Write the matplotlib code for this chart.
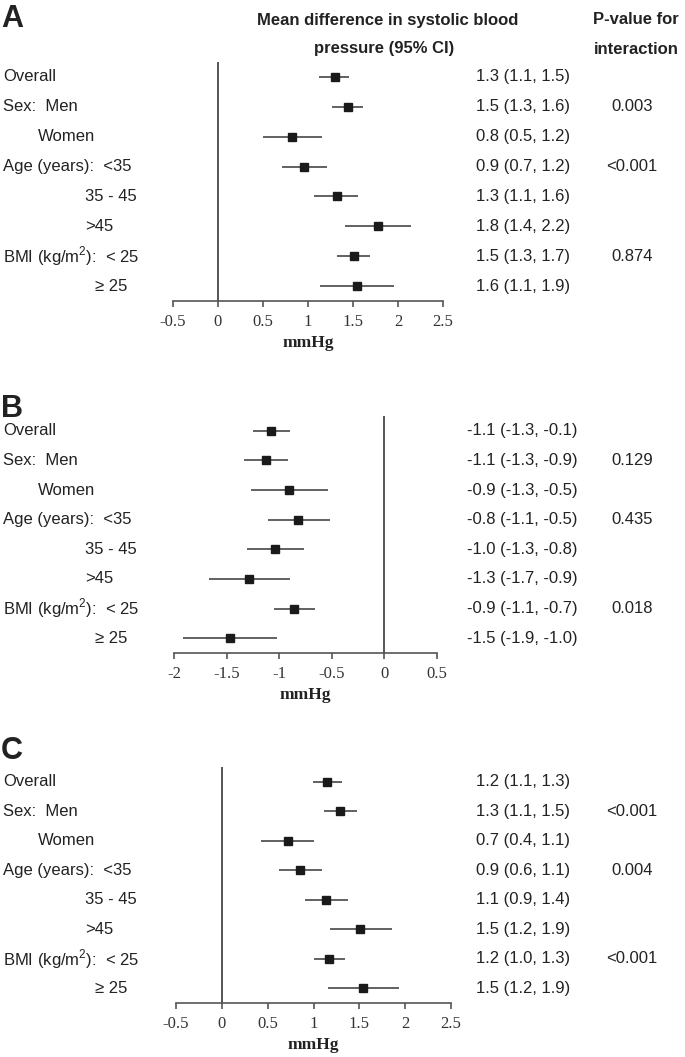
import matplotlib
matplotlib.use("Agg")
import matplotlib.pyplot as plt
from matplotlib.transforms import blended_transform_factory
from matplotlib.ticker import FixedLocator, FuncFormatter

plt.rcParams['font.family'] = ['Liberation Sans', 'DejaVu Sans']
plt.rcParams['mathtext.fontset'] = 'custom'
plt.rcParams['mathtext.rm'] = 'Liberation Sans'
plt.rcParams['axes.unicode_minus'] = False

W, H = 685, 1057

# ---- data ----
row_labels = ["Overall", "Sex:  Men", "Women", "Age (years):  <35", "35 - 45", ">45",
              "BMI (kg/m$^{2}$):  < 25", "\u2265 25"]

# panel A
est_a = [1.30, 1.44, 0.82, 0.95, 1.32, 1.78, 1.51, 1.54]
lo_a = [1.12, 1.27, 0.50, 0.71, 1.07, 1.41, 1.32, 1.13]
hi_a = [1.46, 1.61, 1.15, 1.21, 1.56, 2.14, 1.69, 1.95]
txt_a = ["1.3 (1.1, 1.5)", "1.5 (1.3, 1.6)", "0.8 (0.5, 1.2)", "0.9 (0.7, 1.2)",
         "1.3 (1.1, 1.6)", "1.8 (1.4, 2.2)", "1.5 (1.3, 1.7)", "1.6 (1.1, 1.9)"]
p_a = ["", "0.003", "", "<0.001", "", "", "0.874", ""]

# panel B
est_b = [-1.08, -1.13, -0.91, -0.82, -1.04, -1.29, -0.86, -1.47]
lo_b = [-1.25, -1.33, -1.27, -1.11, -1.31, -1.67, -1.05, -1.91]
hi_b = [-0.90, -0.92, -0.54, -0.52, -0.76, -0.90, -0.66, -1.02]
txt_b = ["-1.1 (-1.3, -0.1)", "-1.1 (-1.3, -0.9)", "-0.9 (-1.3, -0.5)", "-0.8 (-1.1, -0.5)",
         "-1.0 (-1.3, -0.8)", "-1.3 (-1.7, -0.9)", "-0.9 (-1.1, -0.7)", "-1.5 (-1.9, -1.0)"]
p_b = ["", "0.129", "", "0.435", "", "", "0.018", ""]

# panel C
est_c = [1.15, 1.29, 0.72, 0.85, 1.14, 1.51, 1.17, 1.54]
lo_c = [0.99, 1.11, 0.43, 0.62, 0.91, 1.18, 1.01, 1.16]
hi_c = [1.31, 1.47, 1.01, 1.09, 1.38, 1.86, 1.34, 1.93]
txt_c = ["1.2 (1.1, 1.3)", "1.3 (1.1, 1.5)", "0.7 (0.4, 1.1)", "0.9 (0.6, 1.1)",
         "1.1 (0.9, 1.4)", "1.5 (1.2, 1.9)", "1.2 (1.0, 1.3)", "1.5 (1.2, 1.9)"]
p_c = ["", "<0.001", "", "0.004", "", "", "<0.001", ""]

ticks_ac = [-0.5, 0, 0.5, 1, 1.5, 2, 2.5]
ticks_b = [-2, -1.5, -1, -0.5, 0, 0.5]

# layout (pixels)
label_x = [3, 3, 38, 3, 85, 85, 3, 95]

GRAY = "#555555"
TXT = "#222222"

fig = plt.figure(figsize=(W / 100, H / 100), dpi=100)


def fx(x):
    return x / W


def fy(y):
    return 1 - y / H


def panel(letter, left, right, top, bottom, xlim, ticks, est, lo, hi, txt, pv, txt_x, letter_y):
    ax = fig.add_axes([fx(left), fy(bottom), (right - left) / W, (bottom - top) / H])
    rows = list(range(len(est)))
    ax.hlines(rows, lo, hi, color=GRAY, lw=1.3)
    ax.plot(est, rows, 's', color='#1a1a1a', ms=5.5, mec='#1a1a1a')
    ax.axvline(0, color=GRAY, lw=1.4)
    ax.set_xlim(*xlim)
    ax.set_ylim(len(est) - 0.5, -0.5)
    for s in ['left', 'top', 'right']:
        ax.spines[s].set_visible(False)
    ax.spines['bottom'].set_color(GRAY)
    ax.spines['bottom'].set_linewidth(1.2)
    ax.set_yticks([])
    ax.xaxis.set_major_locator(FixedLocator(ticks))
    ax.xaxis.set_major_formatter(FuncFormatter(lambda v, p: ('%g' % v)))
    ax.tick_params(axis='x', direction='out', length=4, width=1.2, color=GRAY, pad=5,
                   labelsize=12, labelcolor='#333333')
    for lab in ax.get_xticklabels():
        lab.set_fontfamily('Liberation Serif')
    ax.set_xlabel("mmHg", fontfamily='Liberation Serif', fontweight='bold', fontsize=12.5,
                  labelpad=4, color=TXT)
    ax.patch.set_visible(False)

    tr = blended_transform_factory(fig.transFigure, ax.transData)
    for i in rows:
        fig.text(fx(label_x[i]), i, row_labels[i], transform=tr, va='center', ha='left',
                 fontsize=12, color=TXT)
        fig.text(fx(txt_x), i, txt[i], transform=tr, va='center', ha='left',
                 fontsize=12, color=TXT)
        if pv[i]:
            fig.text(fx(632), i, pv[i], transform=tr, va='center', ha='center',
                     fontsize=12, color=TXT)
    fig.text(fx(1), fy(letter_y), letter, fontsize=22, fontweight='bold', va='center',
             ha='left', color=TXT)
    return ax


panel("A", 173, 443, 62, 301, (-0.5, 2.5), ticks_ac, est_a, lo_a, hi_a, txt_a, p_a, 476, 19)
panel("B", 174, 437, 416, 653, (-2, 0.5), ticks_b, est_b, lo_b, hi_b, txt_b, p_b, 467, 409)
panel("C", 176, 451, 767, 1003, (-0.5, 2.5), ticks_ac, est_c, lo_c, hi_c, txt_c, p_c, 476, 751)

fig.text(fx(388), fy(20), "Mean difference in systolic blood", ha='center', va='center',
         fontsize=12, fontweight='bold', color=TXT)
fig.text(fx(384), fy(49), "pressure (95% CI)", ha='center', va='center',
         fontsize=12, fontweight='bold', color=TXT)
fig.text(fx(636), fy(20), "P-value for", ha='center', va='center',
         fontsize=12, fontweight='bold', color=TXT)
fig.text(fx(636), fy(49), "interaction", ha='center', va='center',
         fontsize=12, fontweight='bold', color=TXT)

fig.savefig("out.png", dpi=100)
